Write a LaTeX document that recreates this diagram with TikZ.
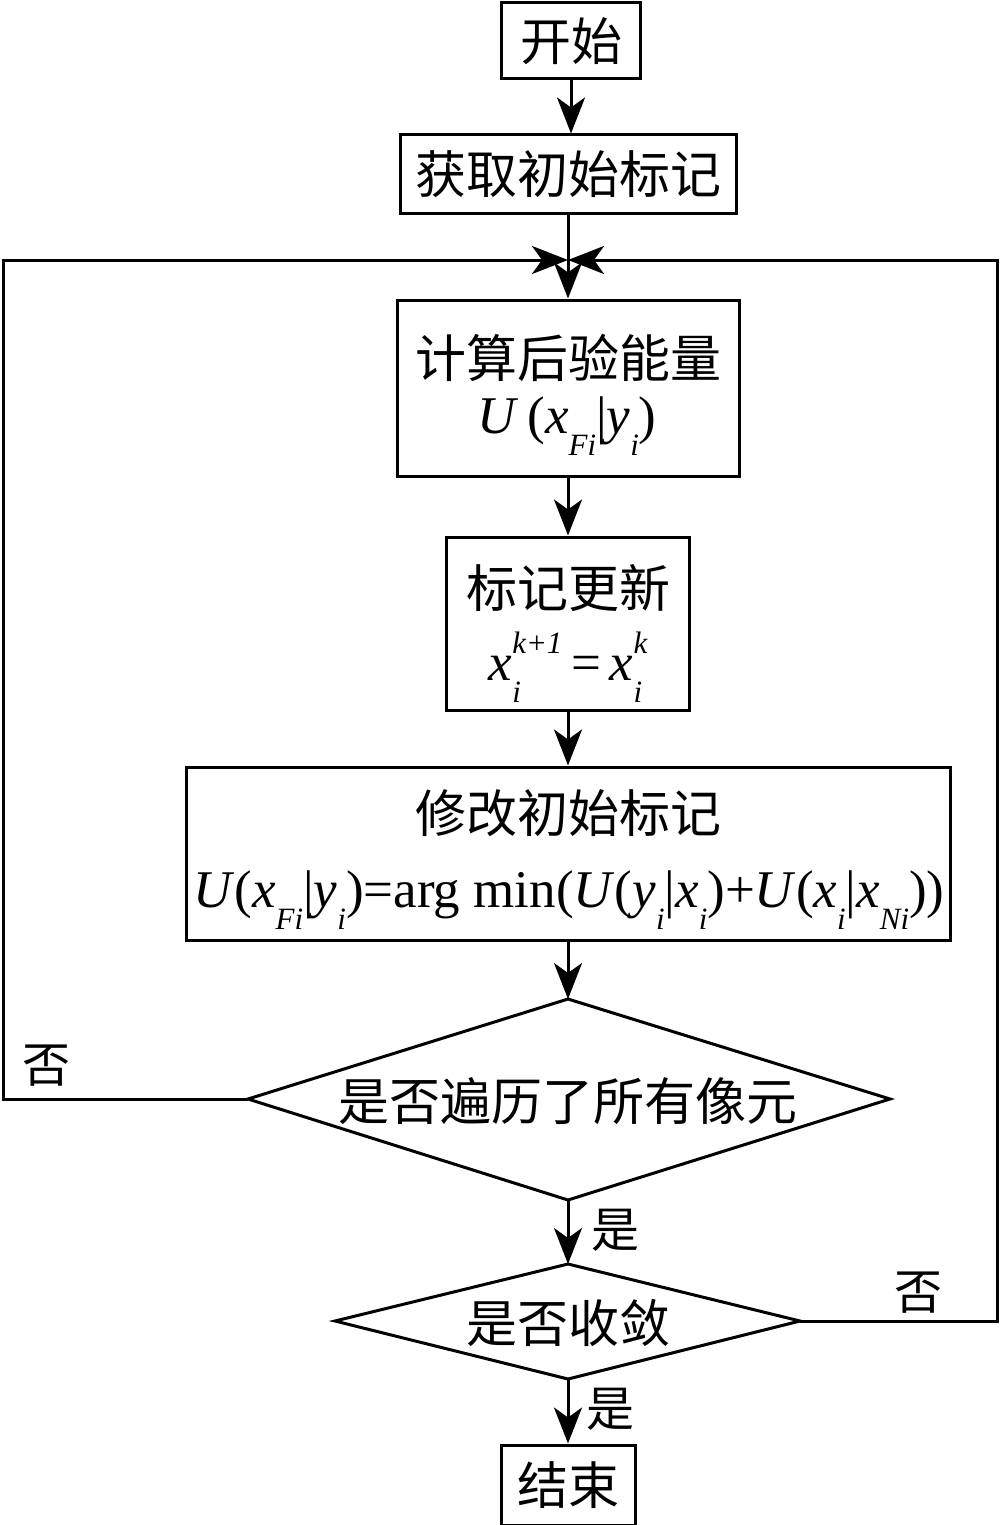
\documentclass[tikz,border=0pt]{standalone}
\usepackage{fontspec}
\setmainfont{Liberation Serif}
\newfontfamily\cjk{Noto Sans CJK SC}
\usetikzlibrary{arrows.meta}
\newcommand\vi[1]{\textit{#1}}
\newcommand\sbs[1]{\raisebox{-0.42em}{\fontsize{31}{31}\selectfont\itshape #1}}
\newcommand\sps[1]{\raisebox{0.5em}{\fontsize{31}{31}\selectfont\itshape #1}}
\newcommand\supsub[2]{\makebox[0pt][l]{\sbs{#2}}\sps{#1}}
\tikzset{
  box/.style={draw, line width=3pt, inner sep=0pt, align=center, font=\fontsize{51}{68}\selectfont\cjk},
  arr/.style={line width=3pt, -{Stealth[length=36pt,width=28pt,inset=10pt]}},
  ln/.style={line width=3pt},
  lbl/.style={inner sep=0pt, font=\fontsize{48}{48}\selectfont\cjk},
  ctext/.style={inner sep=0pt, font=\fontsize{51}{51}\selectfont\cjk},
  ftext/.style={inner sep=0pt, anchor=base, font=\fontsize{53}{53}\selectfont},
}
\begin{document}
\begin{tikzpicture}[x=1pt,y=-1pt]
\fill[white] (0,0) rectangle (1000,1525);
\useasboundingbox (0,0) rectangle (1000,1525);

\node[box, minimum width=139pt, minimum height=76pt] (start) at (571,41) {开始};
\node[box, minimum width=336pt, minimum height=78pt] (get) at (568,174) {获取初始标记};

\node[box, minimum width=342pt, minimum height=176pt] (calc) at (568,388) {};
\node[ctext] (calcA) at (568,358) {计算后验能量};
\node[ftext] (calcB) at (567,433) {\vi{U}\,(\vi{x}\sbs{Fi}|\vi{y}\sbs{i})};

\node[box, minimum width=243pt, minimum height=173pt] (upd) at (568,623.5) {};
\node[ctext] (updA) at (568,588) {标记更新};
\node[ftext] (updB) at (568,680) {\vi{x}\supsub{k+1}{i}\,=\,\vi{x}\supsub{k}{i}};

\node[box, minimum width=764pt, minimum height=173pt] (mod) at (568,853.5) {};
\node[ctext] (modA) at (568,813) {修改初始标记};
\node[ftext] (modB) at (569,907) {\vi{U}(\vi{x}\sbs{Fi}|\vi{y}\sbs{i})=arg min(\vi{U}(\vi{y}\sbs{i}|\vi{x}\sbs{i})+\vi{U}(\vi{x}\sbs{i}|\vi{x}\sbs{Ni}))};

% diamond 1
\coordinate (d1t) at (568,999);
\coordinate (d1b) at (568,1200);
\coordinate (d1l) at (248,1099);
\coordinate (d1r) at (890,1099);
\draw[ln, line join=miter] (d1t) -- (d1r) -- (d1b) -- (d1l) -- cycle;
\node[ctext] (d1) at (568,1101) {是否遍历了所有像元};

% diamond 2
\coordinate (d2t) at (568,1264);
\coordinate (d2b) at (568,1379);
\coordinate (d2l) at (335,1321);
\coordinate (d2r) at (800,1321);
\draw[ln, line join=miter] (d2t) -- (d2r) -- (d2b) -- (d2l) -- cycle;
\node[ctext] (d2) at (568,1323) {是否收敛};

\node[box, minimum width=134pt, minimum height=80pt] (end) at (568,1485) {结束};

\coordinate (mid) at (568,260);
\coordinate (lc) at (3,1099);
\coordinate (lt) at (3,260);
\coordinate (rc) at (997,1321);
\coordinate (rt) at (997,260);

\draw[arr] (start.south) -- (start.south |- get.north);
\draw[arr] (get) -- (calc);
\draw[arr] (calc) -- (upd);
\draw[arr] (upd) -- (mod);
\draw[arr] (mod) -- (d1t);
\draw[arr] (d1b) -- (d2t);
\draw[arr] (d2b) -- (end);
\draw[arr] (d1l) -- (lc) -- (lt) -- (mid);
\draw[arr] (d2r) -- (rc) -- (rt) -- (mid);

\node[lbl] (no1) at (46,1066) {否};
\node[lbl] (yes1) at (615,1230) {是};
\node[lbl] (no2) at (918,1293) {否};
\node[lbl] (yes2) at (610,1409) {是};
\end{tikzpicture}
\end{document}
